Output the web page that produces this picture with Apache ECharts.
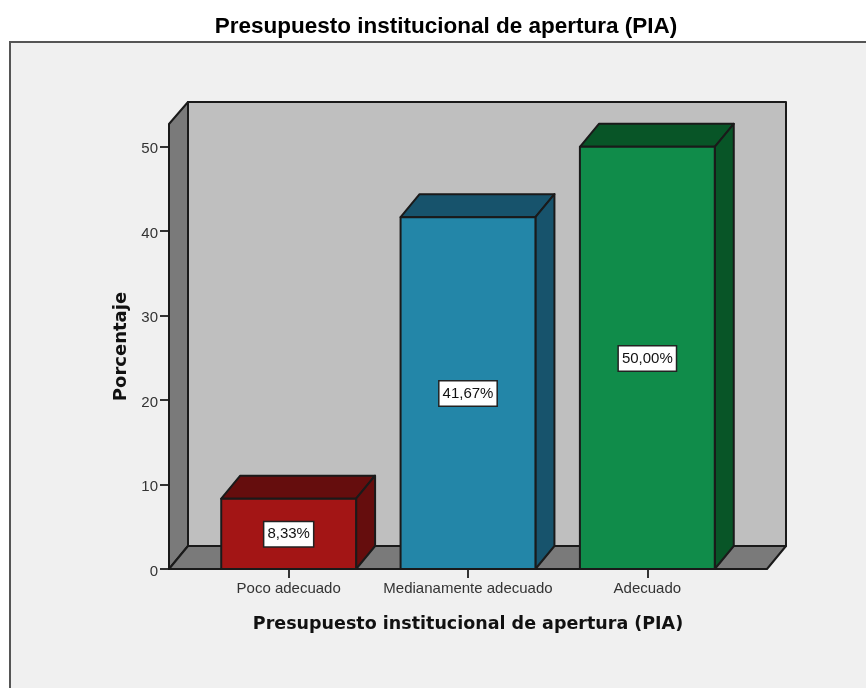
<!DOCTYPE html>
<html>
<head>
<meta charset="utf-8">
<title>Presupuesto institucional de apertura (PIA)</title>
<style>
  html, body { margin: 0; padding: 0; background: #fff; }
  #chart { width: 866px; height: 688px; }
</style>
<script src="https://cdn.jsdelivr.net/npm/echarts@6/dist/echarts.min.js"></script>
</head>
<body>
<div id="chart"></div>
<script>
const titleText = "Presupuesto institucional de apertura (PIA)";
const categories = ["Poco adecuado", "Medianamente adecuado", "Adecuado"];
const percentages = [8.33, 41.67, 50.0];
const yTicks = [0, 10, 20, 30, 40, 50];
const yMax = 52.7;

// caras de cada barra: frente, tapa y lateral
const barFront = ["#A31515", "#2386A8", "#108C4A"];
const barDark = ["#650D0D", "#17536C", "#085527"];

const depthX = 19;
const depthY = 23;
const sideGap = 30;
const edge = { stroke: "#1a1a1a", lineWidth: 2, lineJoin: "round" };

const chart = echarts.init(document.getElementById("chart"));

function poly(points, fill) {
  return { type: "polygon", shape: { points: points }, style: { fill: fill, ...edge } };
}

function renderWalls(params) {
  const g = params.coordSys;
  const l = g.x - sideGap;
  const r = g.x + g.width + sideGap;
  const t = g.y;
  const b = g.y + g.height;
  return {
    type: "group",
    children: [
      poly([[l + depthX, t - depthY + 1], [r + depthX, t - depthY + 1], [r + depthX, b - depthY], [l + depthX, b - depthY]], "#BFBFBF"),
      poly([[l, t], [l + depthX, t - depthY + 1], [l + depthX, b - depthY], [l, b]], "#7A7A7A"),
      poly([[l, b], [l + depthX, b - depthY], [r + depthX, b - depthY], [r, b]], "#7A7A7A"),
    ],
  };
}

function renderBar(params, api) {
  const i = params.dataIndex;
  const top = api.coord([i, api.value(1)]);
  const base = api.coord([i, 0]);
  const half = (api.size([1, 0])[0] * 0.752) / 2;
  const x0 = top[0] - half;
  const x1 = top[0] + half;
  return {
    type: "group",
    children: [
      poly([[x0, top[1]], [x0 + depthX, top[1] - depthY], [x1 + depthX, top[1] - depthY], [x1, top[1]]], barDark[i]),
      poly([[x1, top[1]], [x1 + depthX, top[1] - depthY], [x1 + depthX, base[1] - depthY], [x1, base[1]]], barDark[i]),
      poly([[x0, top[1]], [x1, top[1]], [x1, base[1]], [x0, base[1]]], barFront[i]),
      {
        type: "text",
        x: top[0],
        y: (top[1] + base[1]) / 2 + 0.5,
        style: {
          text: api.value(1).toFixed(2).replace(".", ",") + "%",
          align: "center",
          verticalAlign: "middle",
          fill: "#111",
          font: "15px 'Liberation Sans'",
          backgroundColor: "#fff",
          borderColor: "#222",
          borderWidth: 1.5,
          padding: [5, 3, 4, 3],
        },
      },
    ],
  };
}

chart.setOption({
  animation: false,
  backgroundColor: "#fff",
  title: {
    text: titleText,
    left: 441,
    top: 10,
    textAlign: "center",
    textStyle: { color: "#000", fontFamily: "Liberation Sans", fontWeight: "bold", fontSize: 22.5 },
  },
  graphic: [
    {
      type: "rect",
      z: -10,
      silent: true,
      shape: { x: 10, y: 42, width: 900, height: 700 },
      style: { fill: "#F0F0F0", stroke: "#555", lineWidth: 2 },
    },
  ],
  grid: { left: 199, right: 129, top: 124, bottom: 119 },
  xAxis: {
    type: "category",
    data: categories,
    name: titleText,
    nameLocation: "middle",
    nameGap: 46,
    nameTextStyle: { color: "#111", fontFamily: "DejaVu Sans", fontWeight: "bold", fontSize: 17.5 },
    axisLine: { show: false },
    axisTick: { show: true, alignWithLabel: true, length: 9, lineStyle: { color: "#333", width: 2 } },
    axisLabel: { color: "#333", fontFamily: "Liberation Sans", fontSize: 15, margin: 12, interval: 0 },
  },
  yAxis: {
    type: "value",
    min: 0,
    max: yMax,
    offset: sideGap,
    name: "Porcentaje",
    nameLocation: "middle",
    nameGap: 39,
    nameTextStyle: { color: "#111", fontFamily: "DejaVu Sans", fontWeight: "bold", fontSize: 18 },
    splitLine: { show: false },
    axisLine: { show: false },
    axisTick: { show: true, length: 9, customValues: yTicks, lineStyle: { color: "#333", width: 2 } },
    axisLabel: { color: "#333", fontFamily: "Liberation Sans", fontSize: 15, margin: 11, verticalAlign: "top", lineHeight: 5, customValues: yTicks },
  },
  series: [
    { type: "custom", data: [0], silent: true, z: 1, clip: false, renderItem: renderWalls, encode: { x: 0, y: 0 } },
    {
      type: "custom",
      z: 2,
      clip: false,
      data: percentages.map((v, i) => [i, v]),
      encode: { x: 0, y: 1 },
      renderItem: renderBar,
    },
  ],
});
</script>
</body>
</html>
